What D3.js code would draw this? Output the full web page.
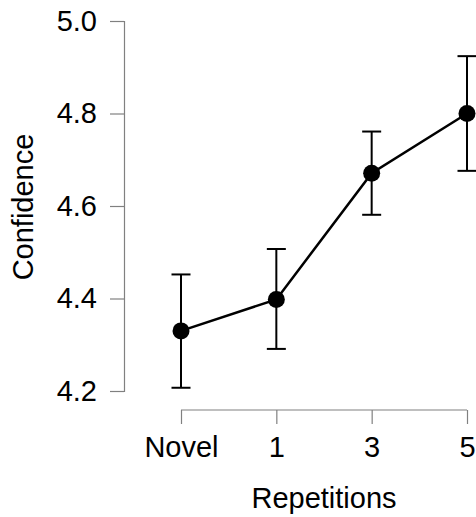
<!DOCTYPE html>
<html><head><meta charset="utf-8">
<script src="https://cdn.jsdelivr.net/npm/d3@7"></script>
<style>body{margin:0;background:#fff}svg{display:block}</style>
</head><body>
<svg id="c" width="476" height="517"></svg>
<script>
const categories = ["Novel", "1", "3", "5"];
const means = [4.33, 4.398, 4.671, 4.80];
const upper = [4.452, 4.507, 4.761, 4.924];
const lower = [4.207, 4.291, 4.581, 4.676];
const yTicks = [4.2, 4.4, 4.6, 4.8, 5.0];
const xTitle = "Repetitions";
const yTitle = "Confidence";

const svg = d3.select("#c");
const font = "Liberation Sans, Arial, Helvetica, sans-serif";
const fs = "29px";
const x = d3.scalePoint().domain(categories).range([181, 467]);
const y = d3.scaleLinear().domain([4.2, 5.0]).range([391, 21]);
const axisCol = "#808080";

// Y axis
const yAxis = svg.append("g").attr("transform", "translate(124,0)")
  .call(d3.axisLeft(y).tickValues(yTicks).tickFormat(d3.format(".1f")).tickSize(14).tickPadding(13));
yAxis.select(".domain").attr("stroke", axisCol).attr("stroke-width", 1.2);
yAxis.selectAll(".tick line").attr("stroke", axisCol).attr("stroke-width", 1.2);
yAxis.selectAll(".tick text").attr("fill", "#000").style("font-family", font).style("font-size", fs);

// X axis
const xAxis = svg.append("g").attr("transform", "translate(0,410)")
  .call(d3.axisBottom(x).tickSize(14).tickPadding(12).tickSizeOuter(0));
xAxis.select(".domain").attr("stroke", axisCol).attr("stroke-width", 1.2)
  .attr("d", `M${x(categories[0])},0H${x(categories[categories.length-1])}`);
xAxis.selectAll(".tick line").attr("stroke", axisCol).attr("stroke-width", 1.2);
xAxis.selectAll(".tick text").attr("fill", "#000").style("font-family", font).style("font-size", fs);

// titles
svg.append("text").attr("x", (x.range()[0] + x.range()[1]) / 2).attr("y", 508)
  .attr("text-anchor", "middle").style("font-family", font).style("font-size", fs).text(xTitle);
svg.append("text").attr("transform", "translate(33,207) rotate(-90)")
  .attr("text-anchor", "middle").style("font-family", font).style("font-size", fs).text(yTitle);

// error bars
const eb = svg.append("g").attr("stroke", "#000").attr("stroke-width", 2);
categories.forEach((c, i) => {
  const cx = x(c);
  eb.append("line").attr("x1", cx).attr("x2", cx).attr("y1", y(upper[i])).attr("y2", y(lower[i]));
  eb.append("line").attr("x1", cx - 9.5).attr("x2", cx + 9.5).attr("y1", y(upper[i])).attr("y2", y(upper[i]));
  eb.append("line").attr("x1", cx - 9.5).attr("x2", cx + 9.5).attr("y1", y(lower[i])).attr("y2", y(lower[i]));
});

// line
const data = categories.map((c, i) => ({c, v: means[i]}));
svg.append("path").datum(data)
  .attr("fill", "none").attr("stroke", "#000").attr("stroke-width", 2.5)
  .attr("d", d3.line().x(d => x(d.c)).y(d => y(d.v)));

// points
svg.selectAll("circle.pt").data(data).enter().append("circle")
  .attr("cx", d => x(d.c)).attr("cy", d => y(d.v)).attr("r", 8.5).attr("fill", "#000");
</script>
</body></html>
